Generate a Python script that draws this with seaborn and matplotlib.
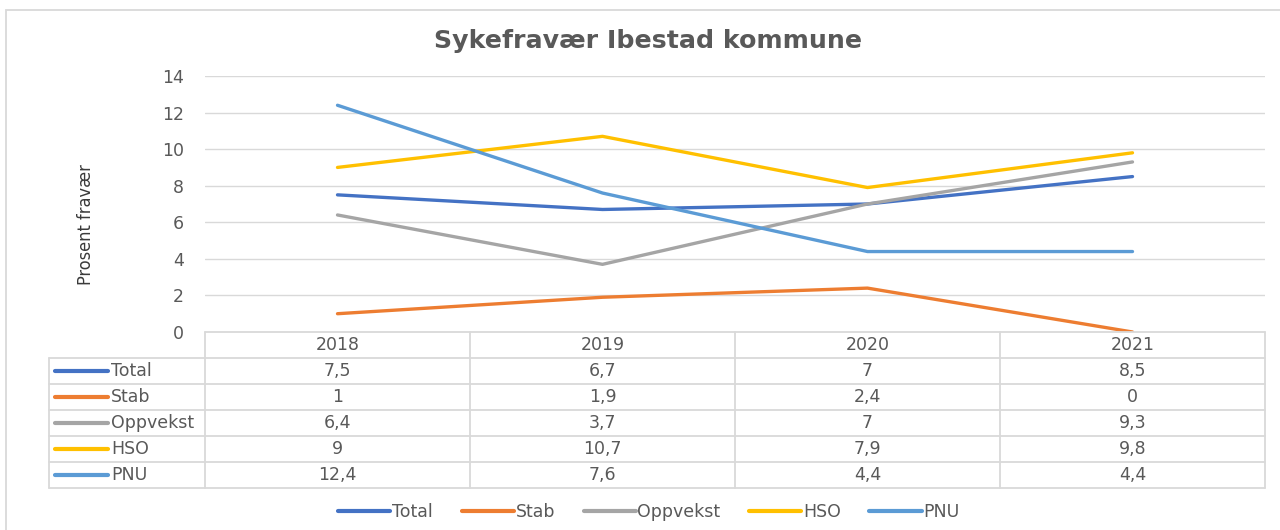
"""
Sykefravær Ibestad kommune — line chart with Excel-style data table.
"""

import matplotlib
matplotlib.use("Agg")
import matplotlib.pyplot as plt
from matplotlib.lines import Line2D
from matplotlib.patches import Rectangle
import seaborn as sns
import pandas as pd

# ──────────────────────────────────────────────────────────────────────
# Data
# ──────────────────────────────────────────────────────────────────────

YEARS = ["2018", "2019", "2020", "2021"]
SERIES = ["Total", "Stab", "Oppvekst", "HSO", "PNU"]

TOTAL = [7.5, 6.7, 7.0, 8.5]
STAB = [1.0, 1.9, 2.4, 0.0]
OPPVEKST = [6.4, 3.7, 7.0, 9.3]
HSO = [9.0, 10.7, 7.9, 9.8]
PNU = [12.4, 7.6, 4.4, 4.4]

Y_TICKS = [0, 2, 4, 6, 8, 10, 12, 14]

COLORS = {
    "Total": "#4472C4",
    "Stab": "#ED7D31",
    "Oppvekst": "#A5A5A5",
    "HSO": "#FFC000",
    "PNU": "#5B9BD5",
}
GRID = "#D9D9D9"
TEXT = "#595959"
FS = 12.5

# long-form table for seaborn
values = {"Total": TOTAL, "Stab": STAB, "Oppvekst": OPPVEKST, "HSO": HSO, "PNU": PNU}
rows = []
for name in SERIES:
    for i, year in enumerate(YEARS):
        rows.append({"series": name, "pos": i, "year": year, "value": values[name][i]})
df = pd.DataFrame(rows)


def fmt(v):
    return f"{v:g}".replace(".", ",")


# ──────────────────────────────────────────────────────────────────────
# Figure
# ──────────────────────────────────────────────────────────────────────

sns.set_theme(style="white")
plt.rcParams["font.family"] = ["DejaVu Sans"]

W, H = 1280, 530
fig = plt.figure(figsize=(W / 100, H / 100), dpi=100)
fig.patch.set_facecolor("white")

# outer chart border
fig.patches.append(Rectangle((6 / W, -0.05), 1.2, 1 - 9.5 / H + 0.05,
                             transform=fig.transFigure, fill=False,
                             edgecolor=GRID, linewidth=1.3))

# plot area: 205..1265 px wide, 76..332 px tall
ax = fig.add_axes([205 / W, 1 - 332 / H, 1060 / W, 256 / H])
sns.lineplot(data=df, x="pos", y="value", hue="series", hue_order=SERIES,
             palette=COLORS, linewidth=2.4, legend=False, ax=ax,
             solid_capstyle="round")
ax.set_xlim(-0.5, len(YEARS) - 0.5)
ax.set_ylim(0, 14)
ax.set_yticks(Y_TICKS)
ax.set_yticklabels([str(t) for t in Y_TICKS], color=TEXT, fontsize=FS)
ax.set_xticks([])
ax.tick_params(axis="y", length=0, pad=15)
for t in Y_TICKS[1:]:
    ax.axhline(t, color=GRID, linewidth=1, zorder=0)
for s in ax.spines.values():
    s.set_visible(False)
ax.set_xlabel("")
ax.set_ylabel("Prosent fravær", fontsize=13, color="#3A3A3A",
              fontstretch="condensed", fontweight="medium")
ax.yaxis.set_label_coords(-0.104, 0.42)
ax.patch.set_alpha(0)

fig.text(648 / W, 1 - 41 / H, "Sykefravær Ibestad kommune", ha="center",
         va="center", fontsize=18.2, fontweight="bold", color=TEXT)

# ──────────────────────────────────────────────────────────────────────
# Data table under the plot
# ──────────────────────────────────────────────────────────────────────

left_px = 49
unit = 1060 / len(YEARS)
x0 = -0.5 - (205 - left_px) / unit
tab = fig.add_axes([left_px / W, 1 - 488 / H, (1265 - left_px) / W, 156 / H])
tab.set_xlim(x0, len(YEARS) - 0.5)
tab.set_ylim(len(SERIES) + 1, 0)
tab.axis("off")

lw = 1.3
# header row
tab.plot([-0.5, len(YEARS) - 0.5], [0, 0], color=GRID, lw=lw, clip_on=False)
for r in range(1, len(SERIES) + 2):
    tab.plot([x0, len(YEARS) - 0.5], [r, r], color=GRID, lw=lw, clip_on=False)
for c in range(len(YEARS) + 1):
    tab.plot([c - 0.5, c - 0.5], [0, len(SERIES) + 1], color=GRID, lw=lw, clip_on=False)
tab.plot([x0, x0], [1, len(SERIES) + 1], color=GRID, lw=lw, clip_on=False)

for i, year in enumerate(YEARS):
    tab.text(i, 0.5, year, ha="center", va="center", fontsize=FS, color=TEXT)

for r, name in enumerate(SERIES, start=1):
    k0 = x0 + 6 / unit
    k1 = x0 + 59 / unit
    tab.plot([k0, k1], [r + 0.5, r + 0.5], color=COLORS[name], lw=3,
             solid_capstyle="round")
    tab.text(x0 + 62 / unit, r + 0.5, name, ha="left", va="center",
             fontsize=FS, color=TEXT)
    for i, v in enumerate(values[name]):
        tab.text(i, r + 0.5, fmt(v), ha="center", va="center",
                 fontsize=FS, color=TEXT)

# ──────────────────────────────────────────────────────────────────────
# Legend
# ──────────────────────────────────────────────────────────────────────

handles = [Line2D([], [], color=COLORS[n], lw=3, solid_capstyle="round") for n in SERIES]
leg = fig.legend(handles, SERIES, loc="center", bbox_to_anchor=(0.507, 1 - 512 / H),
                 ncol=len(SERIES), frameon=False, fontsize=FS,
                 handlelength=3.0, handletextpad=0.1, columnspacing=1.65)
for t in leg.get_texts():
    t.set_color(TEXT)

fig.savefig("out.png", dpi=100)
